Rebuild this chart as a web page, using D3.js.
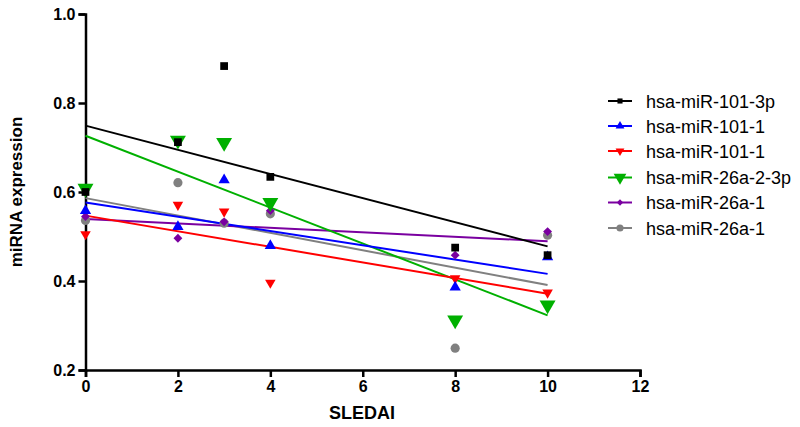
<!DOCTYPE html>
<html>
<head>
<meta charset="utf-8">
<script src="https://cdn.jsdelivr.net/npm/d3@7"></script>
<style>
  html, body { margin: 0; padding: 0; background: #fff; }
  svg { display: block; font-family: "Liberation Sans", Arial, Helvetica, sans-serif; }
</style>
</head>
<body>
<svg id="chart" width="800" height="427"></svg>
<script>
// ---- data ----
const sledai = [0, 2, 3, 4, 8, 10];
const seriesNames = ["hsa-miR-101-3p", "hsa-miR-101-1", "hsa-miR-101-1", "hsa-miR-26a-2-3p", "hsa-miR-26a-1", "hsa-miR-26a-1"];
const mir101_3p   = [0.600, 0.712, 0.883, 0.634, 0.475, 0.458];
const mir101_1a   = [0.558, 0.522, 0.627, 0.479, 0.386, 0.454];
const mir101_1b   = [0.505, 0.571, 0.556, 0.396, 0.406, 0.374];
const mir26a_2_3p = [0.608, 0.716, 0.711, 0.576, 0.312, 0.346];
const mir26a_1a   = [0.545, 0.496, 0.533, 0.558, 0.458, 0.511];
const mir26a_1b   = [0.536, 0.621, 0.530, 0.551, 0.249, 0.503];
const seriesValues = [mir101_3p, mir101_1a, mir101_1b, mir26a_2_3p, mir26a_1a, mir26a_1b];
const xTicks = [0, 2, 4, 6, 8, 10, 12];
const yTicks = [0.2, 0.4, 0.6, 0.8, 1.0];

// ---- styles ----
const colors = ["#000000", "#0000ff", "#ff0000", "#00b000", "#7a00a0", "#808080"];
const symTypes = [d3.symbolSquare, d3.symbolTriangle, d3.symbolTriangle, d3.symbolTriangle, d3.symbolDiamond2, d3.symbolCircle];
const symRotate = [0, 0, 180, 180, 0, 0];
const symSize = [60, 55, 48, 110, 50, 66];
const legSize = [26, 34, 34, 70, 26, 40];

const svg = d3.select("#chart");
const x = d3.scaleLinear().domain([0, 12]).range([85.5, 640]);
const y = d3.scaleLinear().domain([0.2, 1.0]).range([370, 14]);

// axes
const xAxis = svg.append("g").attr("transform", "translate(0,370)")
  .call(d3.axisBottom(x).tickValues(xTicks).tickFormat(d3.format("d")).tickSize(7).tickPadding(4));
const yAxis = svg.append("g").attr("transform", "translate(85.5,0)")
  .call(d3.axisLeft(y).tickValues(yTicks).tickFormat(d3.format(".1f")).tickSize(7).tickPadding(3));
[xAxis, yAxis].forEach(g => {
  g.select(".domain").attr("stroke", "#000").attr("stroke-width", 2.5);
  g.selectAll(".tick line").attr("stroke", "#000").attr("stroke-width", 2.5);
  g.selectAll(".tick text").attr("fill", "#000").style("font-size", "16px").style("font-weight", "bold")
    .style("font-family", "'Liberation Sans', Arial, sans-serif");
});

// titles
svg.append("text").attr("x", 362).attr("y", 419).attr("text-anchor", "middle")
  .style("font-size", "18px").style("font-weight", "bold").text("SLEDAI");
svg.append("text").attr("transform", "translate(22,192) rotate(-90)").attr("text-anchor", "middle")
  .style("font-size", "17px").style("font-weight", "bold").text("miRNA expression");

// regression
function linreg(xs, ys) {
  const mx = d3.mean(xs), my = d3.mean(ys);
  let sxy = 0, sxx = 0;
  xs.forEach((xv, i) => { sxy += (xv - mx) * (ys[i] - my); sxx += (xv - mx) * (xv - mx); });
  const b = sxy / sxx;
  return { a: my - b * mx, b };
}

const order = d3.range(seriesValues.length).reverse();
const lineG = svg.append("g");
order.forEach(i => {
  const r = linreg(sledai, seriesValues[i]);
  const x0 = d3.min(sledai), x1 = d3.max(sledai);
  lineG.append("line")
    .attr("x1", x(x0)).attr("y1", y(r.a + r.b * x0))
    .attr("x2", x(x1)).attr("y2", y(r.a + r.b * x1))
    .attr("stroke", colors[i]).attr("stroke-width", 2);
});

const ptG = svg.append("g");
order.forEach(i => {
  const sym = d3.symbol().type(symTypes[i]).size(symSize[i]);
  ptG.selectAll(null).data(sledai.map((s, k) => [s, seriesValues[i][k]])).enter()
    .append("path")
    .attr("d", sym)
    .attr("transform", d => `translate(${x(d[0])},${y(d[1])}) rotate(${symRotate[i]})`)
    .attr("fill", colors[i]);
});

// legend
const legY = [101, 126, 151, 177.5, 202.5, 228];
const leg = svg.append("g");
seriesNames.forEach((name, i) => {
  const g = leg.append("g").attr("transform", `translate(0,${legY[i]})`);
  g.append("line").attr("x1", 608).attr("x2", 632).attr("y1", 0).attr("y2", 0)
    .attr("stroke", colors[i]).attr("stroke-width", 2);
  g.append("path").attr("d", d3.symbol().type(symTypes[i]).size(legSize[i]))
    .attr("transform", `translate(620,0) rotate(${symRotate[i]})`).attr("fill", colors[i]);
  g.append("text").attr("x", 646).attr("y", 6.5).style("font-size", "18px").attr("fill", "#000").text(name);
});
</script>
</body>
</html>
